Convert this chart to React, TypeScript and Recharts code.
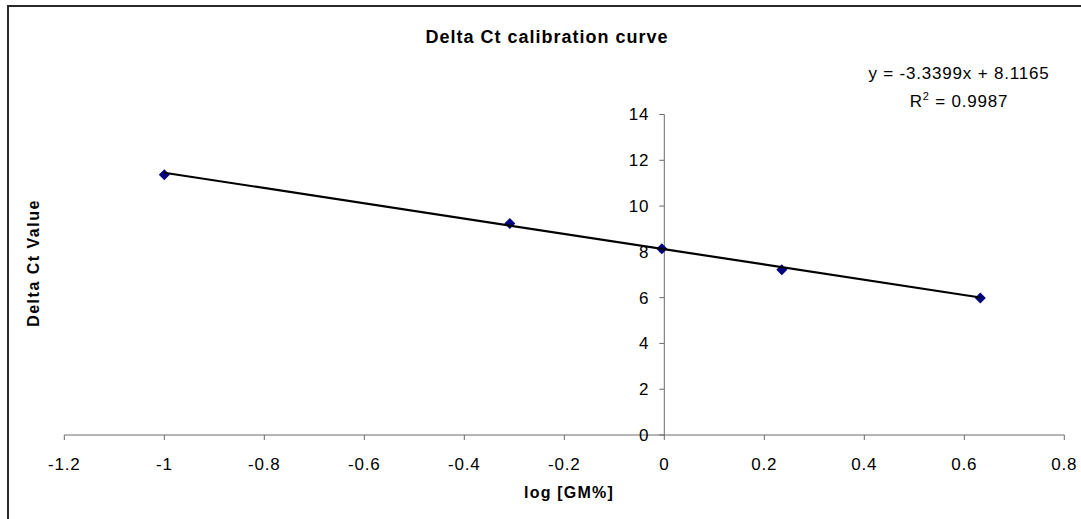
import React from "react";
import {
  ReferenceDot,
  ReferenceLine,
  Scatter,
  ScatterChart,
  XAxis,
  YAxis,
} from "recharts";

const logGM = [-1, -0.309, -0.005, 0.235, 0.632];
const deltaCt = [11.37, 9.24, 8.14, 7.22, 5.98];

// trendline ends as drawn (y = -3.3399x + 8.1165)
const trendX = [-1, 0.632];
const trendY = [11.456, 6.006];

const xTicks = [-1.2, -1, -0.8, -0.6, -0.4, -0.2, 0, 0.2, 0.4, 0.6, 0.8];
const yTicks = [0, 2, 4, 6, 8, 10, 12, 14];

const FONT = "'Liberation Sans', Arial, sans-serif";
const AXIS = "#6a6a6a";

const points = logGM.map((x, i) => ({ x, y: deltaCt[i] }));
const trend = trendX.map((x, i) => ({ x, y: trendY[i] }));

const Diamond = (p: any) => {
  const { cx, cy } = p;
  if (cx == null || cy == null) return <g />;
  return (
    <polygon
      points={`${cx},${cy - 5.5} ${cx + 5.5},${cy} ${cx},${cy + 5.5} ${cx - 5.5},${cy}`}
      fill="#000080"
    />
  );
};

const YTick = (value: number) => (p: any) => {
  const { cx, cy } = p;
  return (
    <g>
      <line x1={cx - 5} y1={cy} x2={cx} y2={cy} stroke={AXIS} />
      <text
        x={cx - 15}
        y={cy}
        dy="0.35em"
        textAnchor="end"
        fontSize={17}
        fontFamily={FONT}
        letterSpacing={0.8}
        fill="#000"
      >
        {value}
      </text>
    </g>
  );
};

export default function App() {
  return (
    <div
      style={{
        position: "absolute",
        left: 0,
        top: 0,
        width: 1081,
        height: 519,
        background: "#fff",
        overflow: "hidden",
      }}
    >
      <div
        style={{
          position: "absolute",
          left: 7,
          top: 5,
          width: 1100,
          height: 600,
          borderLeft: "2px solid #2a2a2a",
          borderTop: "2px solid #2a2a2a",
        }}
      />
      <div style={{ position: "absolute", left: 0, top: 0 }}>
        <ScatterChart
          width={1081}
          height={519}
          margin={{ top: 114.5, right: 16.7, left: 64.3, bottom: 54 }}
        >
          <XAxis
            type="number"
            dataKey="x"
            domain={[-1.2, 0.8]}
            ticks={xTicks}
            interval={0}
            allowDataOverflow
            height={30}
            tickSize={5}
            tickMargin={18}
            axisLine={{ stroke: AXIS }}
            tickLine={{ stroke: AXIS }}
            tick={{ fontSize: 17, fill: "#000", fontFamily: FONT, letterSpacing: 0.8 }}
          />
          <YAxis type="number" dataKey="y" domain={[0, 14]} hide width={0} />
          <ReferenceLine x={0} stroke={AXIS} />
          {yTicks.map((v) => (
            <ReferenceDot key={v} x={0} y={v} r={0} shape={YTick(v)} />
          ))}
          <Scatter data={points} shape={Diamond} isAnimationActive={false} />
          <Scatter
            data={trend}
            line={{ stroke: "#000", strokeWidth: 2.2 }}
            lineType="joint"
            shape={() => <g />}
            isAnimationActive={false}
          />
        </ScatterChart>
      </div>
      <svg
        width={1081}
        height={519}
        style={{ position: "absolute", left: 0, top: 0, pointerEvents: "none" }}
        fontFamily={FONT}
      >
        <text x={547} y={43} textAnchor="middle" fontSize={18} fontWeight="bold" letterSpacing={1}>
          Delta Ct calibration curve
        </text>
        <text x={959} y={79} textAnchor="middle" fontSize={17} letterSpacing={0.8}>
          y = -3.3399x + 8.1165
        </text>
        <text x={959} y={107} textAnchor="middle" fontSize={17} letterSpacing={0.8}>
          R<tspan fontSize={11} dy={-7}>2</tspan>
          <tspan dy={7}> = 0.9987</tspan>
        </text>
        <text
          transform="translate(39,263) rotate(-90)"
          textAnchor="middle"
          fontSize={16}
          fontWeight="bold"
          letterSpacing={1.5}
        >
          Delta Ct Value
        </text>
        <text x={569} y={498} textAnchor="middle" fontSize={16} fontWeight="bold" letterSpacing={1.2}>
          log [GM%]
        </text>
      </svg>
    </div>
  );
}
